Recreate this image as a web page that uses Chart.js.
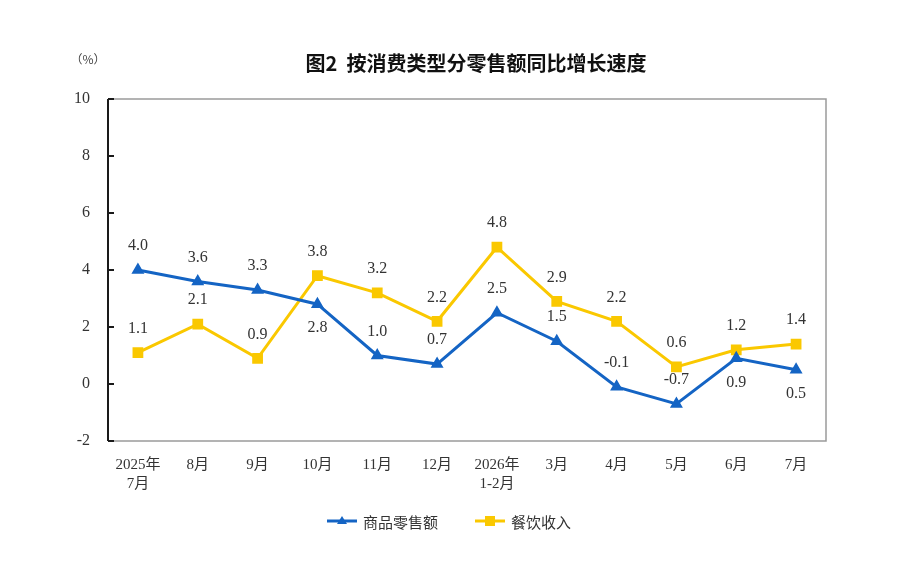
<!DOCTYPE html>
<html>
<head>
<meta charset="utf-8">
<script src="https://cdn.jsdelivr.net/npm/chart.js@4"></script>
<style>
  body { margin: 0; background: #fff; }
  canvas { display: block; }
</style>
</head>
<body>
<canvas id="retailChart" width="915" height="568"></canvas>
<script>
// Categories and series values
const months = [["2025年", "7月"], "8月", "9月", "10月", "11月", "12月", ["2026年", "1-2月"], "3月", "4月", "5月", "6月", "7月"];
const goodsRetail = [4.0, 3.6, 3.3, 2.8, 1.0, 0.7, 2.5, 1.5, -0.1, -0.7, 0.9, 0.5];
const cateringIncome = [1.1, 2.1, 0.9, 3.8, 3.2, 2.2, 4.8, 2.9, 2.2, 0.6, 1.2, 1.4];
const yTicks = [-2, 0, 2, 4, 6, 8, 10];
// which blue labels sit under the point
const goodsLabelBelow = [false, false, false, true, false, false, false, false, false, false, true, true];

const BLUE = "#1464c4";
const YELLOW = "#fac800";
const SERIF = "'Liberation Serif', 'Times New Roman', 'Noto Sans CJK SC', serif";
const CJK = "'Noto Sans CJK SC', sans-serif";

// Draws frame, inner ticks, title, unit, value labels and legend
const decorPlugin = {
  id: "decor",
  beforeDatasetsDraw(chart) {
    const { ctx, chartArea: a } = chart;
    const yScale = chart.scales.y;
    ctx.save();
    // gray frame on top, right and bottom
    ctx.strokeStyle = "#9a9a9a";
    ctx.lineWidth = 1.5;
    ctx.beginPath();
    ctx.moveTo(a.left, a.top);
    ctx.lineTo(a.right, a.top);
    ctx.lineTo(a.right, a.bottom);
    ctx.lineTo(a.left, a.bottom);
    ctx.stroke();
    // black left axis with inward ticks
    ctx.strokeStyle = "#1a1a1a";
    ctx.lineWidth = 2;
    ctx.beginPath();
    ctx.moveTo(a.left, a.top);
    ctx.lineTo(a.left, a.bottom);
    yTicks.forEach(v => {
      const py = yScale.getPixelForValue(v);
      ctx.moveTo(a.left, py);
      ctx.lineTo(a.left + 6, py);
    });
    ctx.stroke();
    ctx.restore();
  },
  afterDatasetsDraw(chart) {
    const { ctx } = chart;
    ctx.save();
    ctx.fillStyle = "#333";
    ctx.font = "16px " + SERIF;
    ctx.textAlign = "center";
    ctx.textBaseline = "middle";
    chart.data.datasets.forEach((ds, di) => {
      const meta = chart.getDatasetMeta(di);
      meta.data.forEach((pt, i) => {
        const below = di === 0 && goodsLabelBelow[i];
        const y = below ? pt.y + 24 : pt.y - 24;
        ctx.fillText(ds.data[i].toFixed(1), pt.x, y);
      });
    });

    // title and unit
    ctx.fillStyle = "#111";
    ctx.font = "bold 20px " + CJK;
    ctx.fillText("图2  按消费类型分零售额同比增长速度", 476, 63);
    ctx.fillStyle = "#444";
    ctx.font = "12px " + CJK;
    ctx.fillText("（%）", 88, 59);

    // legend
    const items = [{ x: 327, ds: chart.data.datasets[0] }, { x: 475, ds: chart.data.datasets[1] }];
    const ly = 521;
    items.forEach(it => {
      ctx.strokeStyle = it.ds.borderColor;
      ctx.fillStyle = it.ds.borderColor;
      ctx.lineWidth = 3;
      ctx.beginPath();
      ctx.moveTo(it.x, ly);
      ctx.lineTo(it.x + 30, ly);
      ctx.stroke();
      if (it.ds.pointStyle === "triangle") {
        ctx.beginPath();
        ctx.moveTo(it.x + 15, ly - 5);
        ctx.lineTo(it.x + 20, ly + 3);
        ctx.lineTo(it.x + 10, ly + 3);
        ctx.closePath();
        ctx.fill();
      } else {
        ctx.fillRect(it.x + 10, ly - 5, 10, 10);
      }
      ctx.fillStyle = "#333";
      ctx.font = "15px " + CJK;
      ctx.textAlign = "left";
      ctx.fillText(it.ds.label, it.x + 36, ly + 1);
    });
    ctx.restore();
  }
};

new Chart(document.getElementById("retailChart"), {
  type: "line",
  data: {
    labels: months,
    datasets: [
      {
        label: "商品零售额",
        data: goodsRetail,
        borderColor: BLUE,
        backgroundColor: BLUE,
        borderWidth: 3,
        pointStyle: "triangle",
        pointRadius: 4.5,
        tension: 0
      },
      {
        label: "餐饮收入",
        data: cateringIncome,
        borderColor: YELLOW,
        backgroundColor: YELLOW,
        borderWidth: 3,
        pointStyle: "rect",
        pointRadius: 5.5,
        tension: 0
      }
    ]
  },
  options: {
    responsive: false,
    animation: false,
    layout: { padding: { top: 99, right: 89, bottom: 67, left: 0 } },
    plugins: {
      legend: { display: false },
      title: { display: false },
      tooltip: { enabled: false }
    },
    scales: {
      x: {
        offset: true,
        grid: { display: false },
        border: { display: false },
        ticks: {
          color: "#333",
          font: { size: 15, family: SERIF, lineHeight: 1.25 },
          maxRotation: 0,
          autoSkip: false,
          padding: 7
        },
        afterFit: scale => { scale.height = 60; }
      },
      y: {
        min: -2,
        max: 10,
        grid: { display: false },
        border: { display: false },
        afterBuildTicks: scale => { scale.ticks = yTicks.map(v => ({ value: v })); },
        ticks: {
          color: "#333",
          font: { size: 16, family: SERIF },
          padding: 10
        },
        afterFit: scale => { scale.width = 108; }
      }
    }
  },
  plugins: [decorPlugin]
});
</script>
</body>
</html>
